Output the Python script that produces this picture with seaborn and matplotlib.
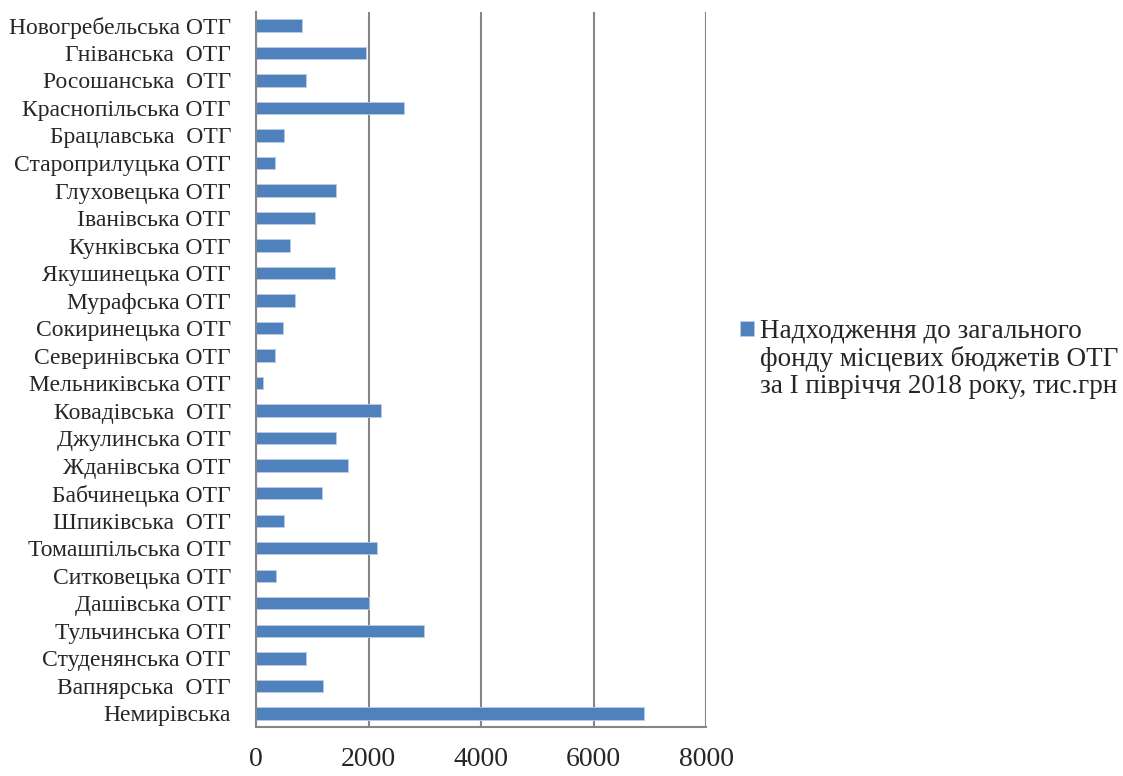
import numpy as np
import pandas as pd
import matplotlib
matplotlib.use("Agg")
import matplotlib.pyplot as plt
import seaborn as sns

# назви ОТГ (зверху вниз)
otg = [
    "Новогребельська ОТГ", "Гніванська  ОТГ", "Росошанська  ОТГ", "Краснопільська ОТГ",
    "Брацлавська  ОТГ", "Староприлуцька ОТГ", "Глуховецька ОТГ", "Іванівська ОТГ",
    "Кунківська ОТГ", "Якушинецька ОТГ", "Мурафська ОТГ", "Сокиринецька ОТГ",
    "Северинівська ОТГ", "Мельниківська ОТГ", "Ковадівська  ОТГ", "Джулинська ОТГ",
    "Жданівська ОТГ", "Бабчинецька ОТГ", "Шпиківська  ОТГ", "Томашпільська ОТГ",
    "Ситковецька ОТГ", "Дашівська ОТГ", "Тульчинська ОТГ", "Студенянська ОТГ",
    "Вапнярська  ОТГ", "Немирівська",
]
# надходження, тис.грн
nadhodzhennia = [
    816, 1946, 880, 2620,
    500, 333, 1429, 1048,
    607, 1405, 684, 470,
    345, 125, 2214, 1423,
    1631, 1167, 488, 2143,
    357, 2010, 2988, 887,
    1184, 6890,
]
series_lines = ["Надходження до загального",
                "фонду місцевих бюджетів ОТГ",
                "за І півріччя 2018 року, тис.грн"]
xticks = [0, 2000, 4000, 6000, 8000]

df = pd.DataFrame({"otg": otg, "value": nadhodzhennia, "series": "s"})

sns.set_style("white")
plt.rcParams["font.family"] = ["Liberation Serif", "DejaVu Serif"]

fig = plt.figure(figsize=(11.23, 7.76), dpi=100)
ax = fig.add_axes([0.228, 0.063, 0.401, 0.922])

sns.barplot(data=df, x="value", y="otg", hue="series", orient="h",
            palette=["#4F81BD"], saturation=1, width=0.45, ax=ax,
            edgecolor="#B9CDE5", linewidth=0.6)

handles, _ = ax.get_legend_handles_labels()
ax.get_legend().remove()

ax.set_xlim(0, 8000)
ax.set_ylim(len(otg) - 0.5, -0.5)
ax.set_xticks(xticks)
ax.set_xticklabels([str(t) for t in xticks], fontsize=20)
ax.set_xlabel("")
ax.set_ylabel("")
ax.tick_params(axis="y", labelsize=17, length=0, pad=18)
ax.set_yticks(np.arange(len(otg) + 1) - 0.5, minor=True)
ax.tick_params(axis="y", which="minor", length=6, width=1.5, color="#868686")
ax.tick_params(axis="x", length=6, width=1.5, color="#868686", pad=8)

ax.grid(axis="x", color="#868686", linewidth=1.5)
ax.set_axisbelow(True)
for s in ["top", "right"]:
    ax.spines[s].set_visible(False)
for s in ["left", "bottom"]:
    ax.spines[s].set_color("#868686")
    ax.spines[s].set_linewidth(1.5)

# легенда: маркер біля першого рядка, решта рядків під ним
leg = fig.legend(handles, [series_lines[0]], loc="center left",
                 bbox_to_anchor=(0.659, 0.573), frameon=False, fontsize=19.5,
                 handlelength=0.5, handleheight=0.5, handletextpad=0.22,
                 borderpad=0, borderaxespad=0)
fig.canvas.draw()
bb = leg.get_texts()[0].get_window_extent().transformed(fig.transFigure.inverted())
x0 = bb.x0
y_first = (bb.y0 + bb.y1) / 2
step = 27.5 / 776
for i, line in enumerate(series_lines[1:], start=1):
    fig.text(x0, y_first - i * step, line, fontsize=19.5, va="center", ha="left")

fig.savefig("out.png", dpi=100)
